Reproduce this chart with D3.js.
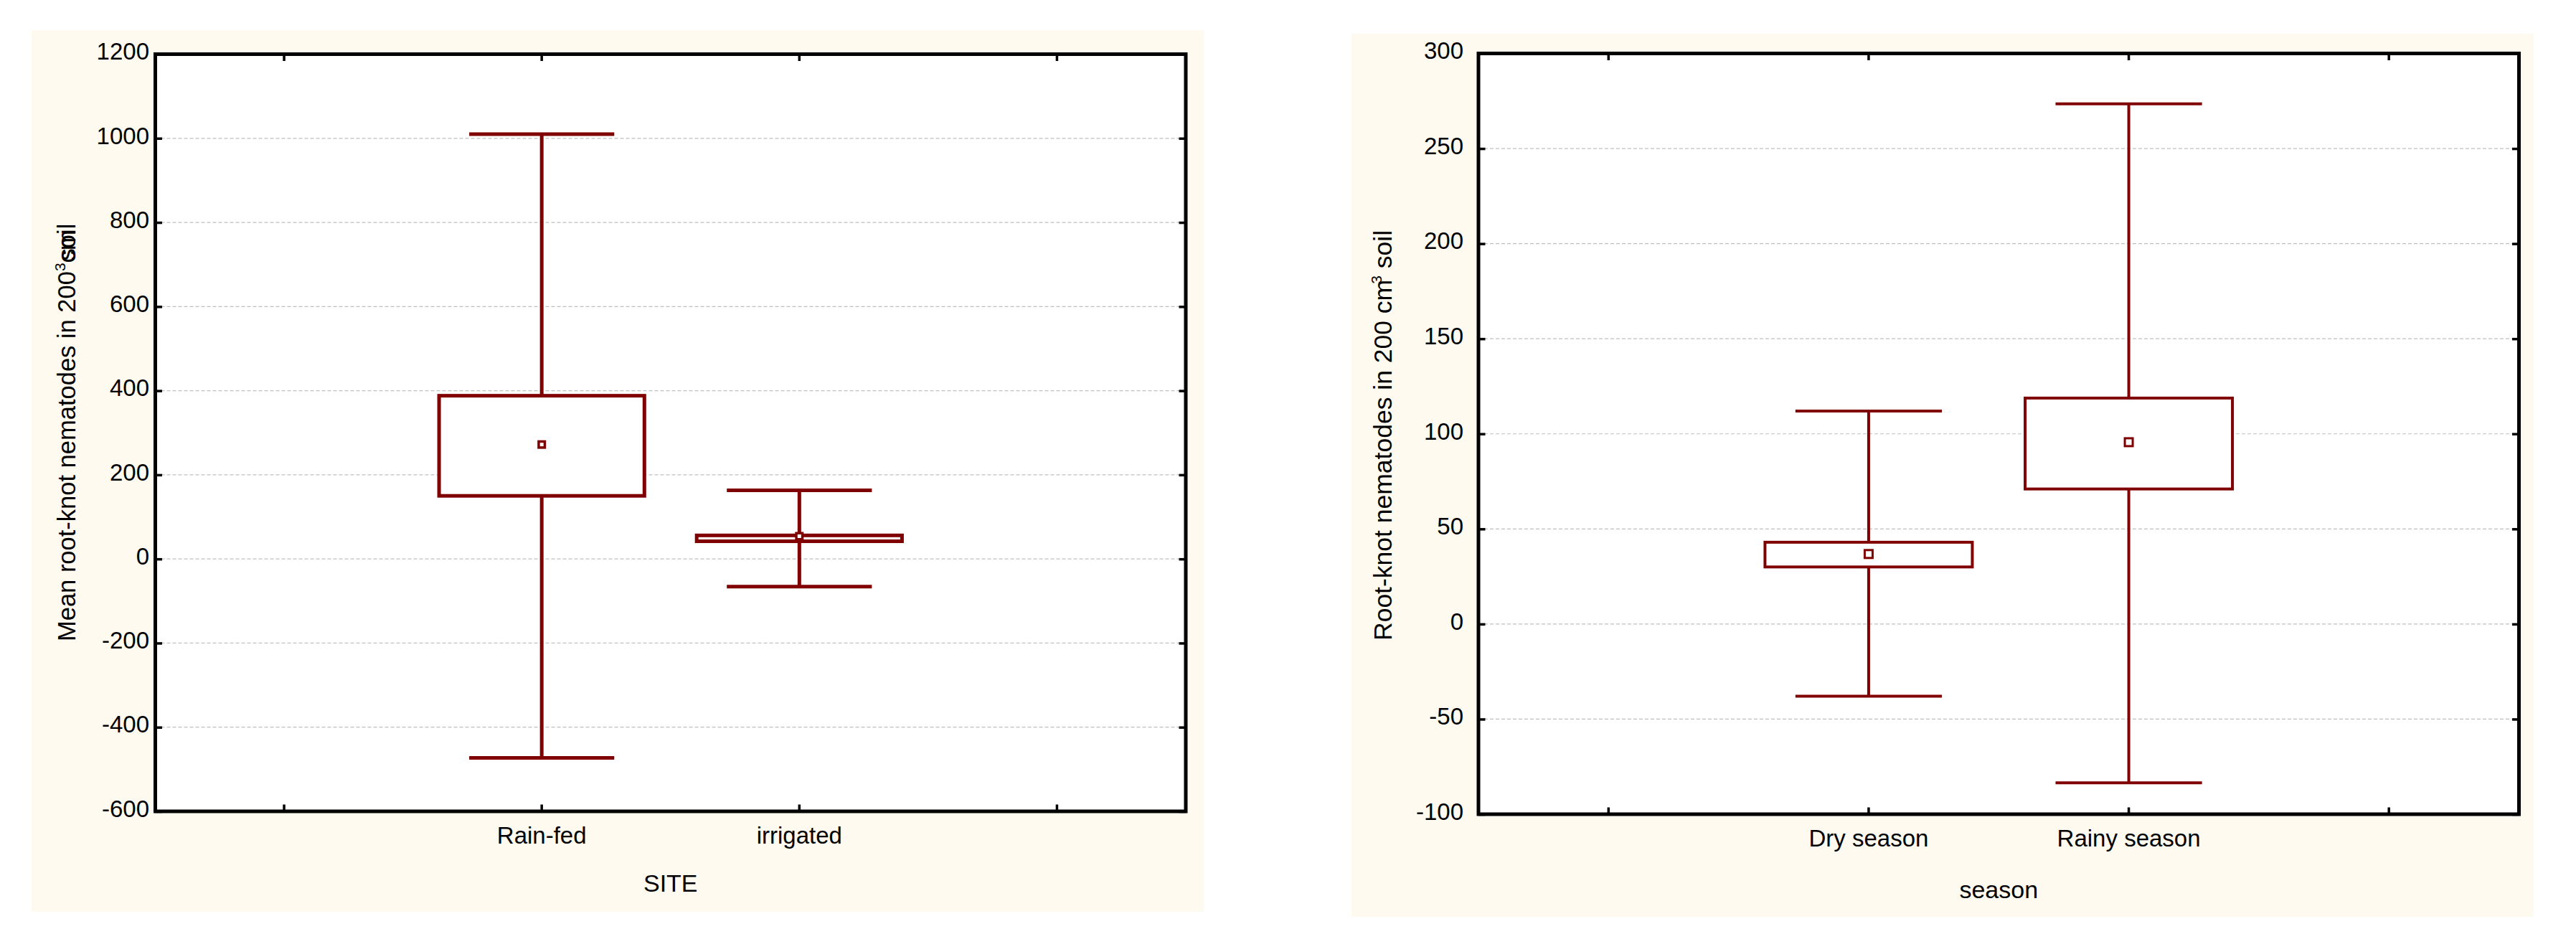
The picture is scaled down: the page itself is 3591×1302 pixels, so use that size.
<!DOCTYPE html>
<html>
<head>
<meta charset="utf-8">
<script src="https://cdn.jsdelivr.net/npm/d3@7"></script>
<style>
  html, body { margin: 0; padding: 0; background: #ffffff; }
  svg { display: block; }
  text { font-family: "Liberation Sans", Arial, sans-serif; fill: #000; }
</style>
</head>
<body>
<svg id="chart" width="3591" height="1302"></svg>
<script>
// ---------- DATA ----------
// Panel 1: SITE
const siteCategories   = ["Rain-fed", "irrigated"];
const siteWhiskerHigh  = [1010, 163];
const siteBoxHigh      = [388, 56];
const siteMean         = [272, 54];
const siteBoxLow       = [150, 42];
const siteWhiskerLow   = [-473, -66];
const siteTicks        = [-600, -400, -200, 0, 200, 400, 600, 800, 1000, 1200];

// Panel 2: season
const seasonCategories  = ["Dry season", "Rainy season"];
const seasonWhiskerHigh = [112, 273.5];
const seasonBoxHigh     = [43, 118.8];
const seasonMean        = [36.8, 95.6];
const seasonBoxLow      = [30, 71];
const seasonWhiskerLow  = [-38, -83.5];
const seasonTicks       = [-100, -50, 0, 50, 100, 150, 200, 250, 300];

// ---------- STYLE / LAYOUT ----------
const COLOR = "#800000";
const BG = "#fffaf0";
const svg = d3.select("#chart");

function panel(cfg) {
  const g = svg.append("g");
  g.append("rect").attr("x", cfg.bg[0]).attr("y", cfg.bg[1])
    .attr("width", cfg.bg[2]).attr("height", cfg.bg[3]).attr("fill", BG);
  g.append("rect").attr("x", cfg.x0).attr("y", cfg.y0)
    .attr("width", cfg.x1 - cfg.x0).attr("height", cfg.y1 - cfg.y0).attr("fill", "#fff");

  const slots = ["__a", ...cfg.categories, "__b"];
  const x = d3.scaleBand().domain(slots).range([cfg.x0, cfg.x1]).padding(0);
  const y = d3.scaleLinear().domain([cfg.ticks[0], cfg.ticks[cfg.ticks.length - 1]]).range([cfg.y1, cfg.y0]);

  // gridlines
  g.append("g").selectAll("line")
    .data(cfg.ticks.slice(1, -1))
    .join("line")
    .attr("x1", cfg.x0).attr("x2", cfg.x1)
    .attr("y1", d => y(d)).attr("y2", d => y(d))
    .attr("stroke", "#c0c0c0").attr("stroke-width", 1.2)
    .attr("stroke-dasharray", "5,3");

  const data = cfg.categories.map((c, i) => ({
    c, wh: cfg.wh[i], bh: cfg.bh[i], m: cfg.mean[i], bl: cfg.bl[i], wl: cfg.wl[i]
  }));
  const cx = d => x(d.c) + x.bandwidth() / 2;
  const boxW = x.bandwidth() * 0.797;
  const capW = x.bandwidth() * 0.563;

  const marks = g.append("g");
  marks.selectAll(".stem").data(data).join("line").attr("class", "stem")
    .attr("x1", cx).attr("x2", cx)
    .attr("y1", d => y(d.wh)).attr("y2", d => y(d.wl))
    .attr("stroke", COLOR).attr("stroke-width", cfg.lw);
  ["wh", "wl"].forEach(k => {
    marks.selectAll(".cap-" + k).data(data).join("line").attr("class", "cap-" + k)
      .attr("x1", d => cx(d) - capW / 2).attr("x2", d => cx(d) + capW / 2)
      .attr("y1", d => y(d[k])).attr("y2", d => y(d[k]))
      .attr("stroke", COLOR).attr("stroke-width", cfg.lw);
  });
  marks.selectAll(".box").data(data).join("rect").attr("class", "box")
    .attr("x", d => cx(d) - boxW / 2).attr("width", boxW)
    .attr("y", d => y(d.bh)).attr("height", d => y(d.bl) - y(d.bh))
    .attr("fill", "#fff").attr("stroke", COLOR).attr("stroke-width", cfg.lw);
  marks.selectAll(".mean").data(data).join("rect").attr("class", "mean")
    .attr("x", d => cx(d) - cfg.ms / 2).attr("y", d => y(d.m) - cfg.ms / 2)
    .attr("width", cfg.ms).attr("height", cfg.ms)
    .attr("fill", "#fff").attr("stroke", COLOR).attr("stroke-width", cfg.msw);

  // frame
  g.append("rect").attr("x", cfg.x0).attr("y", cfg.y0)
    .attr("width", cfg.x1 - cfg.x0).attr("height", cfg.y1 - cfg.y0)
    .attr("fill", "none").attr("stroke", "#000").attr("stroke-width", 5);

  const tickIn = -9.5;
  const fmtCat = d => cfg.categories.includes(d) ? d : "";
  const fmtNum = d => String(d);   // plain hyphen-minus like the original
  const styleAxis = (sel) => {
    sel.select(".domain").remove();
    sel.selectAll(".tick line").attr("stroke", "#000").attr("stroke-width", 3.5);
    sel.selectAll(".tick text").attr("font-size", 33).attr("fill", "#000")
      .attr("font-family", "Liberation Sans, Arial, sans-serif");
  };

  g.append("g").attr("transform", `translate(${cfg.x0},0)`)
    .call(d3.axisLeft(y).tickValues(cfg.ticks).tickSize(tickIn).tickPadding(cfg.yPad).tickFormat(fmtNum))
    .call(styleAxis)
    .call(s => s.selectAll(".tick text").attr("dy", "0.22em"));
  g.append("g").attr("transform", `translate(${cfg.x1},0)`)
    .call(d3.axisRight(y).tickValues(cfg.ticks).tickSize(tickIn).tickFormat(""))
    .call(styleAxis);
  g.append("g").attr("transform", `translate(0,${cfg.y1})`)
    .call(d3.axisBottom(x).tickSize(tickIn).tickPadding(cfg.xPad).tickFormat(fmtCat))
    .call(styleAxis);
  g.append("g").attr("transform", `translate(0,${cfg.y0})`)
    .call(d3.axisTop(x).tickSize(tickIn).tickFormat(""))
    .call(styleAxis);

  g.append("text").attr("x", (cfg.x0 + cfg.x1) / 2).attr("y", cfg.xTitleY)
    .attr("text-anchor", "middle").attr("font-size", 34).text(cfg.xTitle);
  return g;
}

panel({
  bg: [44, 42, 1634, 1229],
  x0: 216.5, x1: 1653, y0: 75.5, y1: 1131,
  categories: siteCategories, ticks: siteTicks,
  wh: siteWhiskerHigh, bh: siteBoxHigh, mean: siteMean, bl: siteBoxLow, wl: siteWhiskerLow,
  lw: 5, ms: 8.5, msw: 3.5, yPad: 8.5, xPad: 22,
  xTitle: "SITE", xTitleY: 1243
});

panel({
  bg: [1884, 47, 1648, 1231],
  x0: 2061, x1: 3511.5, y0: 74.5, y1: 1135,
  categories: seasonCategories, ticks: seasonTicks,
  wh: seasonWhiskerHigh, bh: seasonBoxHigh, mean: seasonMean, bl: seasonBoxLow, wl: seasonWhiskerLow,
  lw: 4, ms: 11, msw: 3, yPad: 21, xPad: 22,
  xTitle: "season", xTitleY: 1252
});

// ---------- Y titles ----------
const t1 = svg.append("text")
  .attr("transform", "translate(105,894) rotate(-90)")
  .attr("font-size", 34.5).attr("text-anchor", "start");
t1.append("tspan").text("Mean root-knot nematodes in 200");
t1.append("tspan").attr("font-size", 21).attr("dy", -14).text("3");
const cm = t1.append("tspan").attr("dy", 14).text("cm");
const soil = t1.append("tspan").text("soil");
soil.attr("dx", -cm.node().getComputedTextLength() + 3);

const t2 = svg.append("text")
  .attr("transform", "translate(1940,893) rotate(-90)")
  .attr("font-size", 35.5).attr("text-anchor", "start");
t2.append("tspan").text("Root-knot nematodes in 200 cm");
t2.append("tspan").attr("font-size", 21).attr("dy", -14).attr("dx", -6).text("3");
t2.append("tspan").attr("dy", 14).text(" soil");
</script>
</body>
</html>
